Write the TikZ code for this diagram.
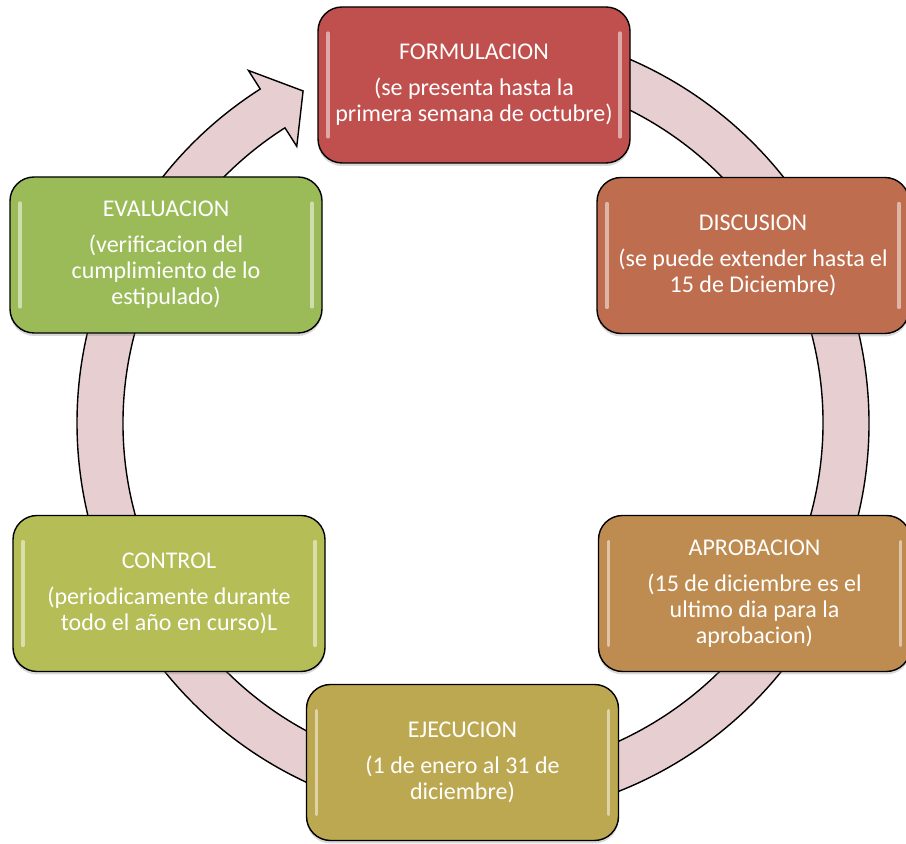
\documentclass[tikz,border=0pt]{standalone}
\usepackage{fontspec}
\setmainfont{Carlito}
\usetikzlibrary{calc,positioning,shadows}

\definecolor{cformul}{HTML}{C0504D}
\definecolor{cdiscu}{HTML}{BE6E4F}
\definecolor{caprob}{HTML}{BE8C50}
\definecolor{cejec}{HTML}{BDA852}
\definecolor{ccontrol}{HTML}{B4BD56}
\definecolor{cevalua}{HTML}{9BBB59}
\definecolor{cring}{HTML}{E7CED0}

\begin{document}
\begin{tikzpicture}
      [x=0.5pt, y=0.5pt,
        ring/.style={draw=black, line width=0.7pt, fill=cring, line join=miter},
        phase/.style={
          rectangle,
          rounded corners=12pt,
          draw=black, line width=0.7pt,
          text=white,
          align=center,
          font=\fontsize{12}{13}\selectfont,
          minimum width=156pt,
          minimum height=78pt,
          drop shadow={shadow xshift=0pt, shadow yshift=-1.5pt, opacity=0.3},
          path picture={
            \draw[white, opacity=0.5, line width=1.6pt, line cap=round]
              ([xshift=5pt,yshift=-13pt]path picture bounding box.north west) --
              ([xshift=5pt,yshift=13pt]path picture bounding box.south west);
            \draw[white, opacity=0.5, line width=1.6pt, line cap=round]
              ([xshift=-5pt,yshift=-13pt]path picture bounding box.north east) --
              ([xshift=-5pt,yshift=13pt]path picture bounding box.south east);
          },
}]
      \useasboundingbox (0,0) rectangle (906,844);

      % the cycle arrow behind the boxes
      \coordinate (ctr) at (473,421);
      \draw[ring] ([shift={(95:396)}]ctr) arc[start angle=95, end angle=-237.5, radius=396]
        -- ([shift={(-237.5:418)}]ctr) -- ([shift={(-242.9:373)}]ctr)
        -- ([shift={(-237.5:328)}]ctr) -- ([shift={(-237.5:350)}]ctr)
        arc[start angle=-237.5, end angle=95, radius=350] -- cycle;

      \node[phase, fill=cformul] (formul) at (474,759)
        {FORMULACION\\[5pt](se presenta hasta la\\primera semana de octubre)};
      \node[phase, fill=cdiscu] (discu) at (753,588.5)
        {DISCUSION\\[5pt](se puede extender hasta el\\15 de Diciembre)};
      \node[phase, fill=caprob] (aprob) at (754.5,250.5)
        {APROBACION\\[5pt](15 de diciembre es el\\ultimo dia para la\\aprobacion)};
      \node[phase, fill=cejec] (ejec) at (462.5,81.5)
        {EJECUCION\\[5pt](1 de enero al 31 de\\diciembre)};
      \node[phase, fill=ccontrol] (control) at (169,250.5)
        {CONTROL\\[5pt](periodicamente durante\\todo el año en curso)L};
      \node[phase, fill=cevalua] (evalua) at (166,589)
        {EVALUACION\\[5pt](verificacion del\\cumplimiento de lo\\estipulado)};
    \end{tikzpicture}
\end{document}
